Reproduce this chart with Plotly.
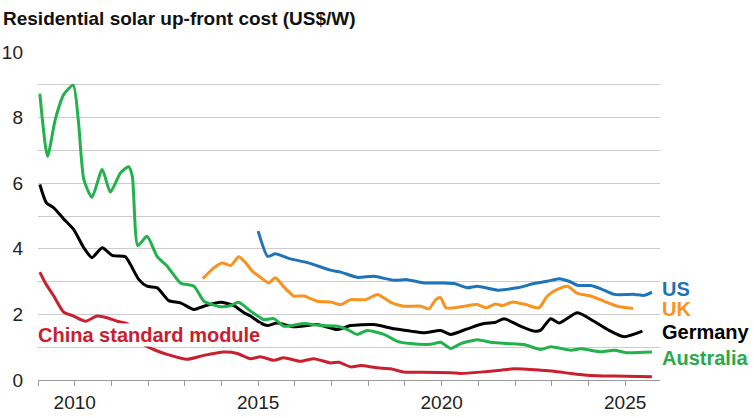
import plotly.graph_objects as go

# ---------------- data ----------------
au_years = [2009.05, 2009.26, 2009.47, 2009.7, 2009.96, 2010.1, 2010.25, 2010.47, 2010.75, 2010.97,
            2011.25, 2011.47, 2011.57, 2011.72, 2011.97, 2012.25, 2012.52, 2012.88, 2013.25, 2013.52,
            2013.75, 2014.02, 2014.25, 2014.47, 2014.79, 2015.06, 2015.15, 2015.43, 2015.7, 2016.25,
            2016.7, 2017.16, 2017.43, 2017.7, 2017.97, 2018.43, 2018.79, 2019.15, 2019.7, 2019.97,
            2020.25, 2020.52, 2020.97, 2021.34, 2021.79, 2022.24, 2022.7, 2022.97, 2023.52, 2023.79,
            2024.34, 2024.7, 2025.06, 2025.73]
au_vals = [8.73, 6.82, 7.94, 8.7, 8.99, 7.9, 6.11, 5.57, 6.42, 5.73,
           6.32, 6.5, 6.21, 4.1, 4.38, 3.76, 3.47, 2.96, 2.86, 2.4,
           2.3, 2.23, 2.27, 2.37, 2.1, 1.9, 1.84, 1.87, 1.64, 1.72,
           1.66, 1.64, 1.54, 1.39, 1.51, 1.39, 1.18, 1.11, 1.09, 1.15,
           0.96, 1.11, 1.23, 1.15, 1.11, 1.08, 0.93, 1.01, 0.91, 0.95,
           0.86, 0.91, 0.83, 0.85]

de_years = [2009.05, 2009.23, 2009.43, 2009.7, 2009.97, 2010.25, 2010.47, 2010.75, 2011.02, 2011.38,
            2011.52, 2011.75, 2011.97, 2012.25, 2012.56, 2012.88, 2013.25, 2013.52, 2013.97, 2014.34,
            2014.61, 2014.79, 2015.06, 2015.25, 2015.52, 2015.97, 2016.61, 2017.16, 2017.52, 2018.15,
            2018.7, 2019.15, 2019.52, 2019.97, 2020.25, 2020.7, 2021.15, 2021.47, 2021.7, 2022.15,
            2022.52, 2022.7, 2022.97, 2023.2, 2023.7, 2024.15, 2024.52, 2024.97, 2025.47]
de_vals = [5.96, 5.4, 5.25, 4.91, 4.59, 4.03, 3.73, 4.03, 3.8, 3.76,
           3.52, 3.06, 2.86, 2.81, 2.42, 2.35, 2.15, 2.25, 2.37, 2.27,
           2.05, 1.95, 1.74, 1.66, 1.74, 1.62, 1.69, 1.54, 1.66, 1.69,
           1.56, 1.49, 1.44, 1.51, 1.39, 1.56, 1.72, 1.76, 1.87, 1.64,
           1.49, 1.52, 1.87, 1.74, 2.05, 1.79, 1.54, 1.32, 1.49]

us_years = [2015.0, 2015.26, 2015.47, 2015.85, 2016.35, 2016.97, 2017.25, 2017.7, 2018.15, 2018.7,
            2019.06, 2019.52, 2020.06, 2020.34, 2020.7, 2020.97, 2021.52, 2022.06, 2022.52, 2022.88,
            2023.2, 2023.47, 2023.7, 2024.06, 2024.34, 2024.7, 2025.25, 2025.52, 2025.73]
us_vals = [4.54, 3.77, 3.85, 3.7, 3.58, 3.35, 3.29, 3.13, 3.16, 3.04,
           3.06, 2.96, 2.96, 2.94, 2.81, 2.86, 2.74, 2.81, 2.94, 3.01,
           3.09, 3.01, 2.89, 2.88, 2.78, 2.61, 2.61, 2.58, 2.68]

uk_years = [2013.49, 2013.79, 2014.02, 2014.25, 2014.47, 2014.66, 2014.84, 2015.11, 2015.29, 2015.47,
            2015.7, 2015.97, 2016.25, 2016.61, 2016.97, 2017.25, 2017.52, 2017.93, 2018.25, 2018.61,
            2018.97, 2019.43, 2019.65, 2019.84, 2019.97, 2020.12, 2020.52, 2020.97, 2021.2, 2021.47,
            2021.66, 2021.93, 2022.29, 2022.65, 2022.88, 2023.15, 2023.43, 2023.7, 2024.06, 2024.43,
            2024.79, 2025.22]
uk_vals = [3.09, 3.42, 3.57, 3.49, 3.76, 3.57, 3.32, 3.09, 2.96, 3.12,
           2.84, 2.56, 2.56, 2.4, 2.38, 2.3, 2.45, 2.45, 2.61, 2.37,
           2.25, 2.25, 2.17, 2.45, 2.51, 2.2, 2.23, 2.3, 2.2, 2.32,
           2.27, 2.38, 2.3, 2.2, 2.56, 2.76, 2.86, 2.64, 2.56, 2.4,
           2.25, 2.18]

cn_years = [2009.05, 2009.2, 2009.43, 2009.7, 2009.97, 2010.29, 2010.61, 2010.88, 2011.16, 2011.43,
            2011.88, 2012.15, 2012.52, 2013.06, 2013.52, 2014.06, 2014.43, 2014.79, 2015.06, 2015.43,
            2015.7, 2016.15, 2016.52, 2016.97, 2017.2, 2017.52, 2017.79, 2018.25, 2018.61, 2018.97,
            2019.52, 2020.25, 2020.52, 2021.06, 2021.61, 2021.97, 2022.7, 2023.06, 2023.52, 2024.06,
            2024.7, 2025.73]
cn_vals = [3.29, 2.96, 2.56, 2.07, 1.95, 1.79, 1.95, 1.9, 1.79, 1.72,
           1.08, 0.93, 0.78, 0.63, 0.75, 0.85, 0.81, 0.65, 0.71, 0.6,
           0.68, 0.57, 0.65, 0.52, 0.54, 0.4, 0.44, 0.37, 0.34, 0.24,
           0.24, 0.22, 0.2, 0.24, 0.3, 0.34, 0.3, 0.27, 0.2, 0.14,
           0.12, 0.1]

year_ticks = list(range(2009, 2026))
year_labels = [str(y) if y % 5 == 0 else "" for y in year_ticks]
y_ticks = [0, 2, 4, 6, 8, 10]

X_RANGE = [2009, 2025.95]
Y_RANGE = [0, 10]

series = [
    ("China standard module", cn_years, cn_vals, "#c8202f"),
    ("Germany", de_years, de_vals, "#000000"),
    ("Australia", au_years, au_vals, "#22b24c"),
    ("UK", uk_years, uk_vals, "#f7931e"),
    ("US", us_years, us_vals, "#1f73b7"),
]

# end labels: (text, y value, colour, box height or None)
end_labels = [
    ("US", 2.775, "#1f73b7", 19),
    ("UK", 2.18, "#f7931e", 19),
    ("Germany", 1.45, "#000000", None),
    ("Australia", 0.67, "#2aa84a", None),
]
china_label = ("China standard module", 2008.97, 1.36, "#c8202f")

FONT = "Liberation Sans, Arial, sans-serif"


def px(xv):
    return (xv - X_RANGE[0]) / (X_RANGE[1] - X_RANGE[0])


def py(yv):
    return (yv - Y_RANGE[0]) / (Y_RANGE[1] - Y_RANGE[0])


fig = go.Figure()
for name, xs, ys, col in series:
    fig.add_trace(go.Scatter(
        x=xs, y=ys, mode="lines", name=name,
        line=dict(color=col, width=3, shape="spline", smoothing=0.6),
        hoverinfo="skip", showlegend=False))

for text, yv, col, h in end_labels:
    fig.add_annotation(x=px(2025.97), y=py(yv), xref="paper", yref="paper", text=f"<b>{text}</b>",
                       showarrow=False, xanchor="left", yanchor="middle", borderpad=0,
                       height=h, font=dict(family=FONT, size=20, color=col))

ct, cx, cy, cc = china_label
fig.add_annotation(x=px(cx), y=py(cy), xref="paper", yref="paper", text=f"<b>{ct}</b>",
                   showarrow=False, xanchor="left", yanchor="middle", bgcolor="white", borderpad=0,
                   font=dict(family=FONT, size=20, color=cc))

fig.update_layout(
    width=754, height=418,
    margin=dict(l=38, r=94, t=52, b=38),
    paper_bgcolor="white", plot_bgcolor="white",
    font=dict(family=FONT, size=19, color="#222222"),
    title=dict(text="<b>Residential solar up-front cost (US$/W)</b>",
               x=0.004, xref="container", xanchor="left", y=0.957, yref="container", yanchor="middle",
               font=dict(family=FONT, size=19, color="#111111")),
)
fig.update_xaxes(
    range=X_RANGE, tickvals=year_ticks, ticktext=year_labels, automargin=False,
    ticks="outside", ticklen=5, tickcolor="#999999", tickwidth=1,
    showline=True, linecolor="#999999", linewidth=1,
    showgrid=False, zeroline=False,
    tickfont=dict(family=FONT, size=19, color="#222222"),
)
fig.update_yaxes(
    range=Y_RANGE, tickvals=y_ticks, ticks="", ticklabelstandoff=14, automargin=False,
    showgrid=True, gridcolor="#cccccc", gridwidth=1,
    minor=dict(dtick=1, showgrid=True, gridcolor="#cccccc", gridwidth=1),
    zeroline=False, showline=False,
    tickfont=dict(family=FONT, size=19, color="#222222"),
)

fig.write_html("out.html")
